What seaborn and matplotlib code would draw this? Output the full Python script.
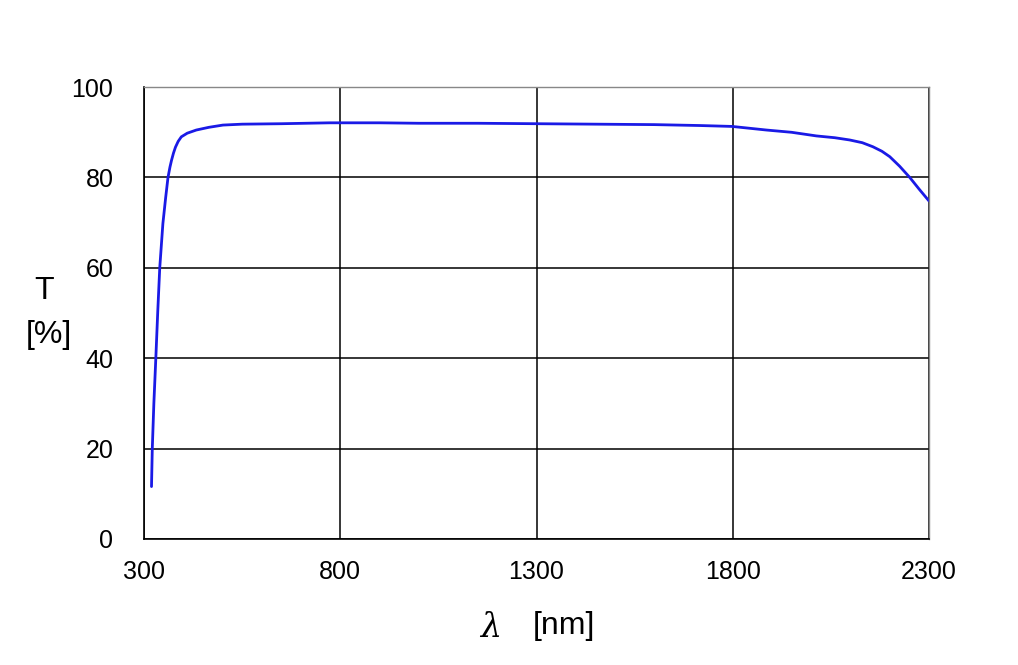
import numpy as np
import pandas as pd
import matplotlib
matplotlib.use("Agg")
import matplotlib.pyplot as plt
import seaborn as sns

wavelength = [319, 321, 325, 330, 335, 340, 348, 355, 361, 366, 370, 375, 380, 387, 395, 410, 433,
              465, 501, 550, 650, 773, 900, 1000, 1150, 1300, 1450, 1600, 1716, 1798,
              1886, 1950, 2013, 2060, 2098, 2130, 2157, 2180, 2200, 2225, 2251, 2275, 2300]
transmittance = [11.6, 20.0, 30.0, 40.0, 50.5, 60.0, 69.8, 75.5, 80.0, 82.3, 83.8, 85.4, 86.7, 88.0, 89.0, 89.8, 90.5,
                 91.1, 91.6, 91.8, 91.9, 92.1, 92.1, 92.0, 92.0, 91.9, 91.8, 91.7, 91.5, 91.3,
                 90.5, 90.0, 89.2, 88.8, 88.3, 87.7, 86.8, 85.8, 84.6, 82.5, 80.0, 77.4, 74.8]
x_ticks = [300, 800, 1300, 1800, 2300]
y_ticks = [0, 20, 40, 60, 80, 100]

df = pd.DataFrame({"wl": wavelength, "T": transmittance})

sns.set_theme(style="white")
plt.rcParams['font.family'] = ['Liberation Sans', 'DejaVu Sans']
plt.rcParams['text.color'] = 'black'

fig = plt.figure(figsize=(10.18, 6.65), dpi=100)
ax = fig.add_axes([0.1415, 0.1895, 0.9126 - 0.1415, 0.869 - 0.1895])

sns.lineplot(data=df, x="wl", y="T", ax=ax, color="#1a1ae6", linewidth=2, sort=True)

ax.set_xlim(300, 2300)
ax.set_ylim(0, 100)
ax.set_xticks(x_ticks)
ax.set_yticks(y_ticks)
ax.grid(True, color="black", linewidth=1.1)
ax.tick_params(axis="both", length=0, labelsize=18, colors="black")
ax.tick_params(axis="x", pad=15)
ax.tick_params(axis="y", pad=22)
for s in ["left", "bottom"]:
    ax.spines[s].set_color("black")
    ax.spines[s].set_linewidth(1.2)
for s in ["top", "right"]:
    ax.spines[s].set_color("#888888")
    ax.spines[s].set_linewidth(1.0)

ax.set_xlabel("")
ax.set_ylabel("")
fig.text(44 / 1018, 1 - 291 / 665, "T", ha="center", va="center", fontsize=23, color="black")
fig.text(49 / 1018, 1 - 335 / 665, "[%]", ha="center", va="center", fontsize=23, color="black")
fig.text(491 / 1018, 1 - 628 / 665, "λ", ha="center", va="center", fontsize=24,
         family=["DejaVu Serif"], style="italic", color="black")
fig.text(564 / 1018, 1 - 626 / 665, "[nm]", ha="center", va="center", fontsize=23, color="black")

fig.savefig("out.png", dpi=100, facecolor="white")
